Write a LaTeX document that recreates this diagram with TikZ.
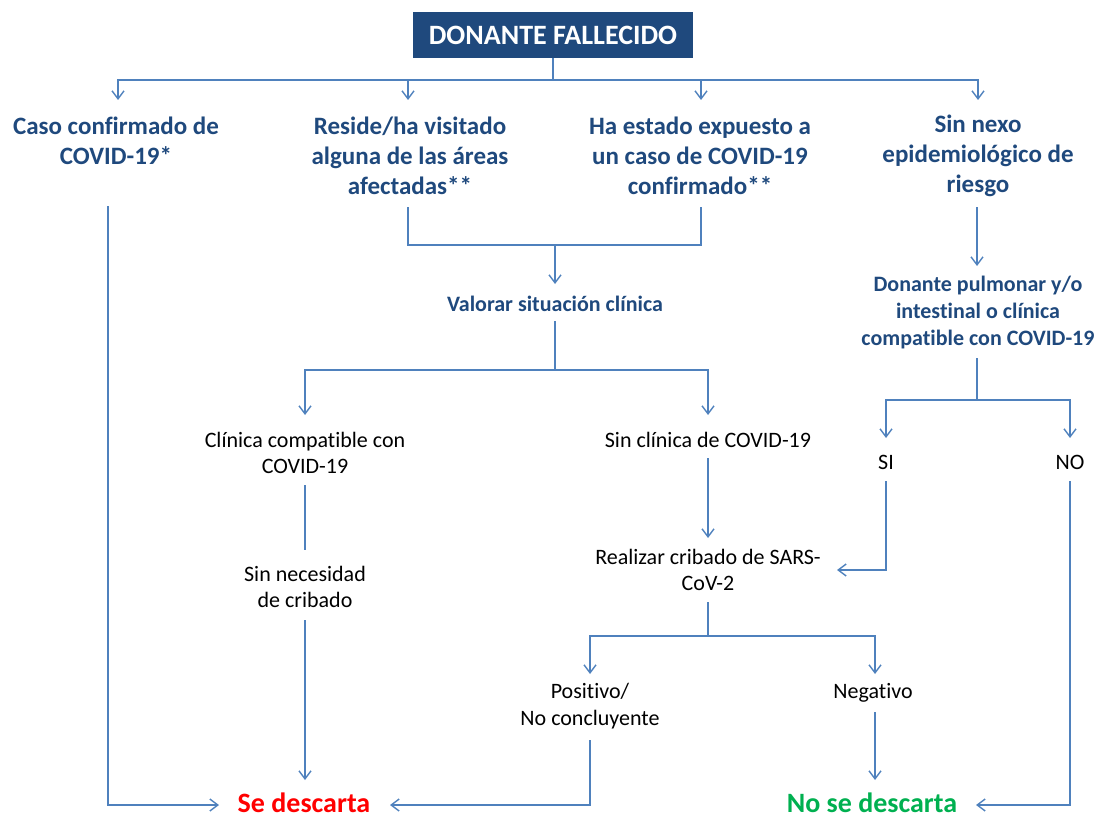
\documentclass[tikz,border=0pt]{standalone}
\usepackage{fontspec}
\setmainfont{Carlito}[Ligatures={NoCommon}]
\usetikzlibrary{arrows.meta}
\definecolor{navy}{HTML}{1F497D}
\definecolor{lineblue}{HTML}{4F81BD}
\definecolor{myred}{HTML}{FF0000}
\definecolor{mygreen}{HTML}{00B050}
\begin{document}
\begin{tikzpicture}[x=1pt,y=-1pt,
 ln/.style={draw=lineblue,line width=1.4pt},
 arr/.style={ln,-{Straight Barb[length=8pt,width=12pt,line width=1.4pt]}},
 hd/.style={font=\fontsize{25}{30}\selectfont\bfseries,text=navy,align=center,inner sep=0pt},
 sub/.style={font=\fontsize{22}{27}\selectfont\bfseries,text=navy,align=center,inner sep=0pt},
 txt/.style={font=\fontsize{22}{26.5}\selectfont,text=black,align=center,inner sep=0pt},
 res/.style={font=\fontsize{28}{32}\selectfont\bfseries,inner sep=0pt},
]
\useasboundingbox (0,0) rectangle (1101,816);
\node[fill=navy,text=white,font=\fontsize{28}{32}\selectfont\bfseries,minimum width=280pt,minimum height=46pt,inner sep=0pt] (title) at (553,35) {DONANTE FALLECIDO};

\node[hd] (a) at (116,141) {Caso confirmado de\\COVID-19*};
\node[hd] (b) at (410,156) {Reside/ha visitado\\alguna de las áreas\\afectadas**};
\node[hd] (c) at (700,156) {Ha estado expuesto a\\un caso de COVID-19\\confirmado**};
\node[hd] (d) at (978,156) {Sin nexo\\epidemiológico de\\riesgo};
\node[sub] (val) at (555,304) {Valorar situación clínica};
\node[sub] (don) at (978,313) {Donante pulmonar y/o\\intestinal o clínica\\compatible con COVID-19};
\node[txt] (cli) at (305,453) {Clínica compatible con\\COVID-19};
\node[txt] (sincli) at (708,440) {Sin clínica de COVID-19};
\node[txt] (si) at (886,462) {SI};
\node[txt] (no) at (1070,462) {NO};
\node[txt] (nec) at (305,587) {Sin necesidad\\de cribado};
\node[txt] (real) at (708,570) {Realizar cribado de SARS-\\CoV-2};
\node[txt] (pos) at (590,706) {Positivo/\\No concluyente};
\node[txt] (neg) at (873,693) {Negativo};
\node[res,text=myred] (se) at (304,803) {Se descarta};
\node[res,text=mygreen] (nose) at (872,803) {No se descarta};

% coordinates
\coordinate (j0) at (553,80);
\coordinate (tA) at (118,100);
\coordinate (tB) at (408,100);
\coordinate (tC) at (701,100);
\coordinate (tD) at (978,100);
\draw[ln] (title.south) -- (j0);
\draw[arr] (j0) -| (tA);
\draw[arr] (j0) -| (tB);
\draw[arr] (j0) -| (tC);
\draw[arr] (j0) -| (tD);

% A -> Se descarta
\coordinate (a0) at (108,206);
\coordinate (tse1) at (219,805);
\draw[arr] (a0) |- (tse1);

% B, C -> Valorar
\coordinate (b0) at (408,207);
\coordinate (c0) at (701,207);
\coordinate (jbc) at (555,245);
\coordinate (tval) at (555,284);
\draw[ln] (b0) |- (c0 |- jbc) -- (c0);
\draw[arr] (jbc) -- (tval);

% Valorar -> branches
\coordinate (v0) at (555,321);
\coordinate (jv) at (555,370);
\coordinate (tcli) at (305,415);
\coordinate (tsincli) at (708,415);
\draw[ln] (v0) -- (jv);
\draw[arr] (jv) -| (tcli);
\draw[arr] (jv) -| (tsincli);

% Clinica -> Sin necesidad -> Se descarta
\coordinate (cl0) at (305,485);
\coordinate (cl1) at (305,550);
\draw[ln] (cl0) -- (cl1);
\coordinate (ne0) at (305,620);
\coordinate (tse2) at (305,780);
\draw[arr] (ne0) -- (tse2);

% Sin clinica -> Realizar
\coordinate (sc0) at (708,458);
\coordinate (treal) at (708,538);
\draw[arr] (sc0) -- (treal);

% Realizar -> Positivo / Negativo
\coordinate (r0) at (708,602);
\coordinate (jr) at (708,636);
\coordinate (tpos) at (590,674);
\coordinate (tneg) at (875,674);
\draw[ln] (r0) -- (jr);
\draw[arr] (jr) -| (tpos);
\draw[arr] (jr) -| (tneg);

% Positivo -> Se descarta
\coordinate (p0) at (590,740);
\coordinate (tse3) at (390,805);
\draw[arr] (p0) |- (tse3);

% Negativo -> No se descarta
\coordinate (n0) at (875,712);
\coordinate (tnose1) at (875,780);
\draw[arr] (n0) -- (tnose1);

% D -> Donante
\coordinate (d0) at (977,207);
\coordinate (tdon) at (977,266);
\draw[arr] (d0) -- (tdon);

% Donante -> SI / NO
\coordinate (dn0) at (977,358);
\coordinate (jd) at (977,400);
\coordinate (tsi) at (886,438);
\coordinate (tno) at (1070,438);
\draw[ln] (dn0) -- (jd);
\draw[arr] (jd) -| (tsi);
\draw[arr] (jd) -| (tno);

% SI -> Realizar
\coordinate (si0) at (886,481);
\coordinate (treal2) at (837,570);
\draw[arr] (si0) |- (treal2);

% NO -> No se descarta
\coordinate (no0) at (1070,481);
\coordinate (tnose2) at (976,805);
\draw[arr] (no0) |- (tnose2);
\end{tikzpicture}
\end{document}
